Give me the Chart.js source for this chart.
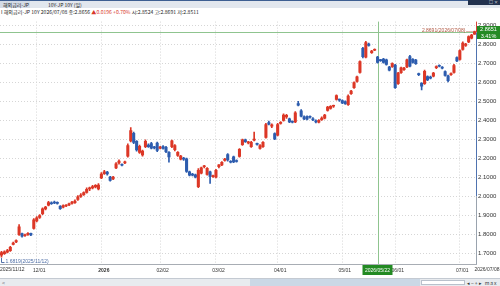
<!DOCTYPE html>
<html>
<head>
<meta charset="utf-8">
<script src="https://cdn.jsdelivr.net/npm/chart.js@4.4.1/dist/chart.umd.min.js"></script>
<style>
html, body { margin: 0; padding: 0; width: 500px; height: 286px; overflow: hidden; background: #fff; }
body { position: relative; font-family: "Noto Sans CJK KR", "Liberation Sans", sans-serif; color: #222; }
#top { position: absolute; left: 0; top: 0; width: 500px; height: 8px; background: #e2e7ee; border-top: 1px solid #3e5f92; box-sizing: border-box; font-size: 5px; line-height: 7px; }
#top .tab { position: absolute; left: 0; top: 0; width: 30px; height: 7px; background: #d3dbe6; padding-left: 3px; box-sizing: border-box; }
#top .name { position: absolute; left: 48px; top: 0; }
#win { position: absolute; left: 468px; top: 0; width: 32px; height: 5px; background: #22324e; color: #fff; font-size: 4px; line-height: 5px; text-align: right; padding-right: 2px; box-sizing: border-box; }
#info { position: absolute; left: 1px; top: 8px; font-size: 5.1px; line-height: 7px; white-space: nowrap; color: #222; }
#info .up { color: #d8382a; }
#chartBox { position: absolute; left: 0; top: 16px; width: 500px; height: 262px; }
#scroll { position: absolute; left: 0; top: 278px; width: 500px; height: 8px; background: #e8ebef; border-top: 1px solid #c4cad2; box-sizing: border-box; font-size: 5px; line-height: 7px; }
#scroll .thumb { position: absolute; left: 250px; top: 0; width: 170px; height: 7px; background: #cbd8e6; }
#scroll .zoom { position: absolute; left: 421px; top: 1px; width: 44px; height: 5px; background: #fff; border: 1px solid #b9c1cc; box-sizing: border-box; }
#scroll .btns { position: absolute; left: 467px; top: 0; width: 33px; height: 7px; color: #333; letter-spacing: 1px; }
#scroll .arrow { position: absolute; left: 2px; top: 0; color: #555; }
</style>
</head>
<body>
<div id="top"><div class="tab">해외금리-JP</div><div class="name">10Y-JP 10Y (일)</div></div>
<div id="win">□ ×</div>
<div id="info">I 해외금리-JP 10Y 2026/07/08 종:2.8656 <span class="up">▲0.0196 +0.70%</span> 시:2.8524 고:2.8691 저:2.8511</div>
<div id="chartBox"><canvas id="candleChart" width="500" height="262"></canvas></div>
<div id="scroll"><span class="arrow">&lt;</span><div class="thumb"></div><div class="zoom"></div><div class="btns">◂−+▸ max</div></div>
<script>
// trading days shown on the chart
var dates = [
    '2025/11/12','2025/11/13','2025/11/14','2025/11/17','2025/11/18','2025/11/19','2025/11/20','2025/11/21','2025/11/25','2025/11/26','2025/11/27','2025/11/28',
    '2025/12/01','2025/12/02','2025/12/03','2025/12/04','2025/12/05','2025/12/08','2025/12/09','2025/12/10','2025/12/11','2025/12/12','2025/12/15',
    '2025/12/16','2025/12/17','2025/12/18','2025/12/19','2025/12/22','2025/12/23','2025/12/24','2025/12/25','2025/12/26','2025/12/29','2025/12/30',
    '2026/01/05','2026/01/06','2026/01/07','2026/01/08','2026/01/09','2026/01/12','2026/01/13','2026/01/14','2026/01/15','2026/01/16',
    '2026/01/19','2026/01/20','2026/01/21','2026/01/22','2026/01/23','2026/01/26','2026/01/27','2026/01/28','2026/01/29','2026/01/30',
    '2026/02/02','2026/02/03','2026/02/04','2026/02/05','2026/02/06','2026/02/09','2026/02/10','2026/02/12','2026/02/13','2026/02/16',
    '2026/02/17','2026/02/18','2026/02/19','2026/02/20','2026/02/23','2026/02/24','2026/02/25','2026/02/26','2026/02/27',
    '2026/03/02','2026/03/03','2026/03/04','2026/03/05','2026/03/06','2026/03/09','2026/03/10','2026/03/11','2026/03/12','2026/03/13','2026/03/16',
    '2026/03/17','2026/03/18','2026/03/19','2026/03/23','2026/03/24','2026/03/25','2026/03/26','2026/03/27','2026/03/30','2026/03/31',
    '2026/04/01','2026/04/02','2026/04/03','2026/04/06','2026/04/07','2026/04/08','2026/04/09','2026/04/10','2026/04/13','2026/04/14','2026/04/15',
    '2026/04/16','2026/04/17','2026/04/20','2026/04/21','2026/04/22','2026/04/23','2026/04/24','2026/04/27','2026/04/28','2026/04/29','2026/04/30',
    '2026/05/01','2026/05/07','2026/05/08','2026/05/11','2026/05/12','2026/05/13','2026/05/14','2026/05/15','2026/05/18','2026/05/19','2026/05/20',
    '2026/05/21','2026/05/22','2026/05/25','2026/05/26','2026/05/27','2026/05/28','2026/05/29',
    '2026/06/01','2026/06/02','2026/06/03','2026/06/04','2026/06/05','2026/06/08','2026/06/09','2026/06/10','2026/06/11','2026/06/12','2026/06/15',
    '2026/06/16','2026/06/17','2026/06/18','2026/06/19','2026/06/22','2026/06/23','2026/06/24','2026/06/25','2026/06/26','2026/06/29','2026/06/30',
    '2026/07/01','2026/07/02','2026/07/03','2026/07/06','2026/07/07','2026/07/08'
];

var opens = [
    1.692,1.700,1.708,1.716,1.748,1.762,1.800,1.805,1.794,1.800,1.806,1.832,1.872,1.890,1.910,1.935,1.955,1.966,1.970,1.968,
    1.948,1.944,1.950,1.956,1.964,1.968,1.985,2.000,2.010,2.022,2.040,2.045,2.050,2.040,2.098,2.120,2.128,2.102,2.092,2.150,
    2.176,2.168,2.176,2.212,2.292,2.332,2.290,2.232,2.218,2.262,2.270,2.278,2.258,2.280,2.254,2.262,2.258,2.232,2.262,2.246,
    2.216,2.196,2.200,2.198,2.130,2.118,2.114,2.052,2.122,2.156,2.116,2.130,2.104,2.102,2.156,2.166,2.190,2.220,2.182,2.208,
    2.186,2.210,2.272,2.298,2.282,2.262,2.296,2.276,2.252,2.262,2.310,2.388,2.370,2.330,2.322,2.384,2.400,2.418,2.408,2.392,
    2.392,2.488,2.450,2.418,2.420,2.418,2.408,2.398,2.390,2.404,2.412,2.452,2.462,2.474,2.510,2.508,2.504,2.498,2.482,2.540,
    2.572,2.604,2.652,2.778,2.732,2.800,2.756,2.768,2.732,2.716,2.722,2.718,2.680,2.682,2.690,2.592,2.650,2.666,2.680,2.735,
    2.720,2.716,2.642,2.594,2.592,2.630,2.626,2.632,2.676,2.686,2.678,2.656,2.634,2.640,2.652,2.730,2.720,2.772,2.794,2.812,
    2.832,2.8524
];
var highs = [
    1.712,1.714,1.722,1.738,1.760,1.772,1.852,1.808,1.802,1.810,1.808,1.884,1.894,1.905,1.940,1.948,1.975,1.972,1.976,1.972,
    1.952,1.956,1.958,1.966,1.975,1.982,2.005,2.015,2.025,2.045,2.050,2.058,2.062,2.068,2.125,2.138,2.132,2.106,2.106,2.178,
    2.192,2.172,2.186,2.276,2.362,2.338,2.294,2.270,2.244,2.298,2.276,2.284,2.264,2.286,2.264,2.268,2.264,2.236,2.296,2.272,
    2.236,2.216,2.206,2.202,2.134,2.122,2.118,2.146,2.154,2.164,2.152,2.134,2.112,2.142,2.168,2.184,2.200,2.226,2.188,2.212,
    2.192,2.252,2.302,2.302,2.290,2.290,2.338,2.280,2.272,2.288,2.384,2.396,2.382,2.334,2.384,2.394,2.434,2.432,2.412,2.398,
    2.446,2.500,2.456,2.424,2.424,2.424,2.414,2.402,2.404,2.418,2.432,2.474,2.478,2.480,2.534,2.512,2.508,2.502,2.534,2.558,
    2.602,2.632,2.712,2.784,2.815,2.806,2.768,2.776,2.736,2.720,2.726,2.722,2.684,2.702,2.694,2.652,2.680,2.678,2.722,2.742,
    2.724,2.720,2.648,2.598,2.664,2.634,2.632,2.652,2.686,2.692,2.682,2.660,2.638,2.650,2.694,2.734,2.770,2.812,2.804,2.844,
    2.852,2.8691
];
var lows = [
    1.6819,1.696,1.703,1.712,1.745,1.758,1.796,1.786,1.790,1.796,1.794,1.828,1.866,1.885,1.905,1.930,1.950,1.958,1.962,1.960,
    1.932,1.940,1.946,1.952,1.960,1.964,1.980,1.995,2.005,2.018,2.030,2.040,2.045,2.035,2.094,2.116,2.112,2.080,2.088,2.146,
    2.170,2.160,2.172,2.206,2.286,2.278,2.238,2.226,2.212,2.256,2.258,2.250,2.250,2.236,2.250,2.248,2.230,2.180,2.256,2.240,
    2.210,2.192,2.190,2.126,2.108,2.108,2.098,2.046,2.118,2.150,2.112,2.068,2.100,2.098,2.150,2.162,2.186,2.186,2.176,2.178,
    2.180,2.206,2.268,2.284,2.276,2.258,2.292,2.270,2.248,2.258,2.306,2.376,2.362,2.298,2.318,2.380,2.396,2.410,2.388,2.386,
    2.388,2.476,2.418,2.404,2.402,2.412,2.398,2.386,2.386,2.400,2.408,2.448,2.458,2.468,2.506,2.500,2.488,2.484,2.478,2.536,
    2.568,2.600,2.648,2.728,2.728,2.790,2.752,2.766,2.700,2.710,2.700,2.690,2.660,2.678,2.568,2.588,2.646,2.662,2.676,2.680,
    2.700,2.694,2.634,2.560,2.588,2.608,2.618,2.628,2.672,2.680,2.670,2.632,2.602,2.636,2.648,2.708,2.716,2.768,2.788,2.808,
    2.828,2.8511
];
var closes = [
    1.706,1.709,1.716,1.733,1.755,1.768,1.840,1.792,1.799,1.806,1.798,1.878,1.888,1.900,1.935,1.944,1.968,1.962,1.966,1.964,
    1.936,1.952,1.954,1.962,1.970,1.976,1.998,2.008,2.020,2.038,2.045,2.052,2.058,2.060,2.118,2.130,2.118,2.084,2.102,2.172,
    2.186,2.164,2.182,2.268,2.346,2.284,2.244,2.264,2.238,2.290,2.262,2.254,2.255,2.242,2.258,2.252,2.236,2.208,2.292,2.268,
    2.232,2.212,2.196,2.132,2.112,2.112,2.102,2.138,2.150,2.156,2.148,2.106,2.108,2.138,2.166,2.180,2.196,2.192,2.180,2.182,
    2.184,2.248,2.298,2.288,2.284,2.284,2.300,2.274,2.268,2.284,2.378,2.380,2.376,2.302,2.378,2.388,2.428,2.426,2.392,2.390,
    2.440,2.480,2.422,2.408,2.406,2.416,2.402,2.392,2.400,2.412,2.428,2.470,2.474,2.476,2.530,2.506,2.492,2.488,2.528,2.554,
    2.598,2.628,2.708,2.734,2.808,2.794,2.764,2.770,2.704,2.714,2.704,2.694,2.664,2.698,2.572,2.648,2.676,2.674,2.718,2.684,
    2.704,2.698,2.640,2.580,2.658,2.612,2.622,2.648,2.682,2.684,2.674,2.636,2.608,2.646,2.688,2.712,2.766,2.806,2.800,2.840,
    2.848,2.8656
];

var yTicks = [1.7, 1.8, 1.9, 2.0, 2.1, 2.2, 2.3, 2.4, 2.5, 2.6, 2.7, 2.8, 2.9];
var crossDate = '2026/05/22';
var crossValue = 2.8651;
var crossChange = '3.41%';

var upColor = '#dc3726';
var downColor = '#2d5cae';
var tickFont = '"Liberation Sans", Arial, sans-serif';

var candleColors = opens.map(function(o, i) { return closes[i] >= o ? upColor : downColor; });
var bodyData = opens.map(function(o, i) { return { x: i, y: [o, closes[i]] }; });
var wickData = lows.map(function(l, i) { return { x: i, y: [l, highs[i]] }; });

// first trading day of each month gets a grid line and a label
var monthStarts = [];
dates.forEach(function(d, i) {
    if (i > 0 && d.substr(5, 2) !== dates[i - 1].substr(5, 2)) monthStarts.push(i);
});
function xLabel(i) {
    var d = dates[i];
    if (!d) return '';
    if (d.substr(5, 2) === '01') return d.substr(0, 4);
    return d.substr(5);
}

var overlay = {
    id: 'overlay',
    beforeDatasetsDraw: function(chart) {
        var ctx = chart.ctx, a = chart.chartArea, x = chart.scales.x, y = chart.scales.y;
        var cx = Math.round(x.getPixelForValue(dates.indexOf(crossDate))) + 0.5;
        var cy = Math.round(y.getPixelForValue(crossValue)) + 0.5;
        ctx.save();
        ctx.strokeStyle = '#8fc48f';
        ctx.lineWidth = 1;
        ctx.beginPath();
        ctx.moveTo(cx, a.top); ctx.lineTo(cx, a.bottom);
        ctx.moveTo(a.left, cy); ctx.lineTo(a.right, cy);
        ctx.stroke();
        ctx.restore();
    },
    afterDraw: function(chart) {
        var ctx = chart.ctx, a = chart.chartArea, x = chart.scales.x, y = chart.scales.y;
        var last = dates.length - 1;
        var cx = Math.round(x.getPixelForValue(dates.indexOf(crossDate))) + 0.5;
        var cy = Math.round(y.getPixelForValue(crossValue)) + 0.5;
        ctx.save();

        // price axis line
        var ax = a.right + 0.5;
        var y2 = y.getPixelForValue(2.0);
        ctx.lineWidth = 1;
        ctx.strokeStyle = '#d8433a';
        ctx.beginPath(); ctx.moveTo(ax, a.top); ctx.lineTo(ax, cy); ctx.stroke();
        ctx.strokeStyle = '#4f73b0';
        ctx.beginPath(); ctx.moveTo(ax, cy); ctx.lineTo(ax, y2); ctx.stroke();
        ctx.strokeStyle = '#9aa3ae';
        ctx.beginPath(); ctx.moveTo(ax, y2); ctx.lineTo(ax, a.bottom); ctx.stroke();

        ctx.font = '5px ' + tickFont;
        ctx.textBaseline = 'middle';

        // highest point
        var hx = x.getPixelForValue(last);
        var hy = y.getPixelForValue(highs[last]);
        ctx.fillStyle = '#b0553f';
        ctx.textAlign = 'right';
        ctx.fillText(highs[last].toFixed(4) + '(' + dates[last] + ')', hx - 9, hy - 0.5);
        ctx.strokeStyle = '#c0705e';
        ctx.setLineDash([1, 1]);
        ctx.beginPath(); ctx.moveTo(hx - 8, Math.round(hy) + 0.5); ctx.lineTo(hx - 1, Math.round(hy) + 0.5); ctx.stroke();
        ctx.setLineDash([]);

        // lowest point
        var lx = Math.round(x.getPixelForValue(0)) + 0.5;
        var ly = y.getPixelForValue(lows[0]);
        ctx.strokeStyle = '#4f6fa6';
        ctx.beginPath(); ctx.moveTo(lx, ly + 1); ctx.lineTo(lx, ly + 5.5); ctx.lineTo(lx + 3, ly + 5.5); ctx.stroke();
        ctx.fillStyle = '#4f6fa6';
        ctx.textAlign = 'left';
        ctx.fillText(lows[0].toFixed(4) + '(' + dates[0] + ')', lx + 4, ly + 4.5);

        // first and last date under the axis
        ctx.fillStyle = '#333';
        ctx.textBaseline = 'top';
        ctx.fillText(dates[0], 0, a.bottom + 3.5);
        ctx.textAlign = 'right';
        ctx.fillText(dates[last], chart.width - 0.5, a.bottom + 3.5);

        // crosshair value box
        ctx.font = '5.5px ' + tickFont;
        ctx.fillStyle = '#238a23';
        ctx.fillRect(a.right + 1, cy - 6.5, chart.width - a.right - 1, 13);
        ctx.fillStyle = '#fff';
        ctx.textAlign = 'center';
        ctx.textBaseline = 'middle';
        var bx = (a.right + 1 + chart.width) / 2;
        ctx.fillText(crossValue.toFixed(4), bx, cy - 3);
        ctx.fillText(crossChange, bx, cy + 3.5);

        // crosshair date box
        ctx.font = '5px ' + tickFont;
        ctx.fillStyle = '#238a23';
        ctx.fillRect(cx - 16, a.bottom + 1, 30, 10);
        ctx.fillStyle = '#fff';
        ctx.fillText(crossDate, cx - 1, a.bottom + 6.5);
        ctx.restore();
    }
};

var candleChart = new Chart(document.getElementById('candleChart').getContext('2d'), {
    type: 'bar',
    data: {
        datasets: [{
            label: 'wick',
            data: wickData,
            backgroundColor: candleColors,
            barThickness: 1,
            grouped: false,
            order: 2
        }, {
            label: 'body',
            data: bodyData,
            backgroundColor: candleColors,
            barThickness: 2.4,
            minBarLength: 1,
            grouped: false,
            order: 1
        }]
    },
    options: {
        responsive: false,
        animation: false,
        devicePixelRatio: 1,
        layout: { padding: { top: 1, left: 0, right: 0, bottom: 0 } },
        plugins: {
            legend: { display: false },
            tooltip: { enabled: false }
        },
        scales: {
            x: {
                type: 'linear',
                offset: false,
                min: -0.5,
                max: dates.length - 0.5,
                afterBuildTicks: function(scale) {
                    scale.ticks = monthStarts.map(function(i) { return { value: i }; });
                },
                afterFit: function(scale) { scale.height = 14; },
                grid: { color: '#d6d6d6', drawTicks: false, offset: false },
                border: { display: true, color: '#a8adb4', dash: [1, 2] },
                ticks: {
                    autoSkip: false,
                    maxRotation: 0,
                    padding: 3.5,
                    labelOffset: 2.5,
                    color: '#333',
                    font: function(c) {
                        var bold = c.tick && xLabel(c.tick.value) === '2026';
                        return { family: tickFont, size: 5, weight: bold ? 'bold' : 'normal' };
                    },
                    callback: function(v) { return xLabel(v); }
                }
            },
            y: {
                position: 'right',
                min: 1.6454,
                max: 2.9186,
                afterBuildTicks: function(scale) {
                    scale.ticks = yTicks.map(function(v) { return { value: v }; });
                },
                afterFit: function(scale) { scale.width = 24; },
                grid: { color: '#d6d6d6', drawTicks: false },
                border: { display: false, dash: [1, 2] },
                ticks: {
                    padding: 2,
                    color: '#333',
                    font: { family: tickFont, size: 6 },
                    callback: function(v) { return Number(v).toFixed(4); }
                }
            }
        }
    },
    plugins: [overlay]
});
</script>
</body>
</html>
